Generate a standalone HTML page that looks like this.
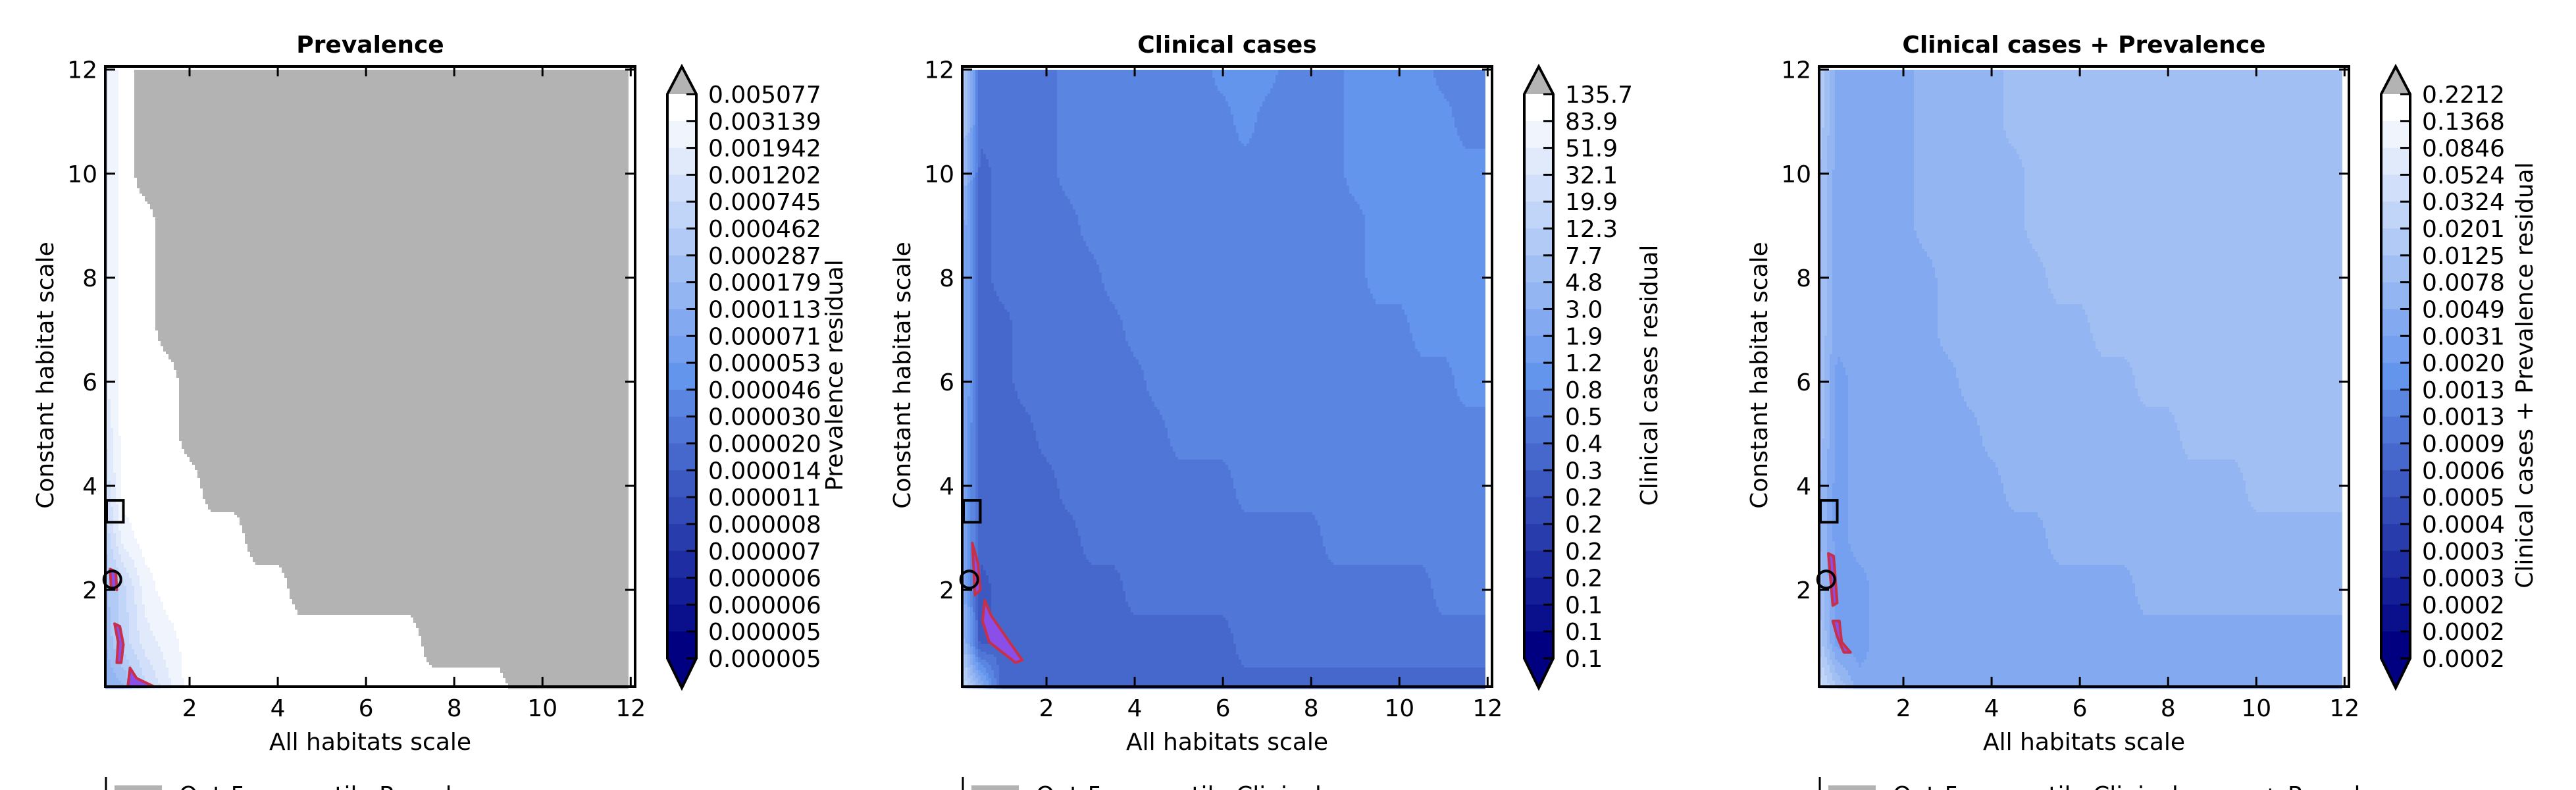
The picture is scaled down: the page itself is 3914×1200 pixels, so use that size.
<!DOCTYPE html>
<html><head><meta charset="utf-8">
<style>
html,body{margin:0;padding:0;background:#fff;width:3914px;height:1200px;overflow:hidden}
svg{display:block}
text{font-family:"DejaVu Sans","Liberation Sans",sans-serif;fill:#000}
</style></head>
<body>
<svg id="fig" width="3914" height="1200" viewBox="0 0 3914 1200" xmlns="http://www.w3.org/2000/svg"></svg>
<script>
// ---- data ----
// grid: columns x = 0,0.5,...,12 ; rows y = 12,11,...,0 ; letter A..U = bin 0..20, Z = over (gray)
const prevRows = ["SUZ","SUZ","SUZ","SUUZ","SUUZ","SUUZ","SUUUZ","RUUUZ","QUUUUZ","PTUUUUUZ","OQTUUUUUUZ","NQSTUUUUUUUUUUUZ","MNQSUUUUUUUUUUUUUUUZ"];
const clinRows = ["RIIIIJJJJJJJKKKJJJKKKKJJJ","RIIIIJJJJJJJJKJJJJKKKKKJJ","QHIIIJJJJJJJJJJJJJKKKKKKK","OHIIIIJJJJJJJJJJJJJKKKKKK","OHIIIIIJJJJJJJJJJJJKKKKKK","OHHIIIIIJJJJJJJJJJJJJKKKK","OHHIIIIIIJJJJJJJJJJJJJJKK","NHHHIIIIIIJJJJJJJJJJJJJJJ","NHHHHIIIIIIIIJJJJJJJJJJJJ","NHHHHHIIIIIIIIIIIJJJJJJJJ","OGHHHHHHIIIIIIIIIIIIIIJJJ","QGHHHHHHHHHHHIIIIIIIIIIII","SOHHHHHHHHHHHHHHHHHHHHHHH"];
const combRows = ["QMMMMNNNNOOOOOOOOOOOOOOOO","QMMMMNNNNOOOOOOOOOOOOOOOO","PMMMMNNNNNOOOOOOOOOOOOOOO","PMMMMNNNNNOOOOOOOOOOOOOOO","PMMMMMNNNNNOOOOOOOOOOOOOO","PMMMMMNNNNNNNOOOOOOOOOOOO","PLMMMMMNNNNNNNNOOOOOOOOOO","PLMMMMMMNNNNNNNNNOOOOOOOO","OLMMMMMMMNNNNNNNNNNNOOOOO","OLMMMMMMMMMNNNNNNNNNNNNNN","PLLMMMMMMMMMMMMNNNNNNNNNN","QLLMMMMMMMMMMMMMMMMMMMMMM","SPMMMMMMMMMMMMMMMMMMMMMMM"];
const prevTicks = ["0.005077","0.003139","0.001942","0.001202","0.000745","0.000462","0.000287","0.000179","0.000113","0.000071","0.000053","0.000046","0.000030","0.000020","0.000014","0.000011","0.000008","0.000007","0.000006","0.000006","0.000005","0.000005"];
const clinTicks = ["135.7","83.9","51.9","32.1","19.9","12.3","7.7","4.8","3.0","1.9","1.2","0.8","0.5","0.4","0.3","0.2","0.2","0.2","0.2","0.1","0.1","0.1"];
const combTicks = ["0.2212","0.1368","0.0846","0.0524","0.0324","0.0201","0.0125","0.0078","0.0049","0.0031","0.0020","0.0013","0.0013","0.0009","0.0006","0.0005","0.0004","0.0003","0.0003","0.0002","0.0002","0.0002"];
// red highlighted regions (x,y data pairs)
const prevBlobs = [[[0.22,2.05],[0.35,2.0],[0.33,2.35],[0.2,2.4]],[[0.3,1.35],[0.42,1.3],[0.5,0.95],[0.45,0.6],[0.35,0.6],[0.38,1.0]],[[0.6,0.14],[0.65,0.5],[0.8,0.3],[1.2,0.14]]];
const clinBlobs = [[[0.32,2.9],[0.45,2.5],[0.5,2.0],[0.38,1.9],[0.35,2.4]],[[0.6,1.8],[0.75,1.5],[1.45,0.65],[1.3,0.6],[0.7,1.0],[0.55,1.4]]];
const combBlobs = [[[0.3,2.7],[0.42,2.65],[0.5,1.75],[0.4,1.7],[0.35,2.2]],[[0.4,1.4],[0.55,1.4],[0.6,1.0],[0.8,0.8],[0.65,0.8],[0.5,1.1]]];
const xTicks = [2,4,6,8,10,12];
const yTicks = [2,4,6,8,10,12];
const titles = ["Prevalence","Clinical cases","Clinical cases + Prevalence"];
const cbLabels = ["Prevalence residual","Clinical cases residual","Clinical cases + Prevalence residual"];
const legendTexts = ["Out-5 percentile Prevalence","Out-5 percentile Clinical cases","Out-5 percentile Clinical cases + Prevalence"];

// ---- rendering ----
const NS="http://www.w3.org/2000/svg";
const svg=document.getElementById('fig');
const FS=36;
function mk(tag,attrs,parent){const e=document.createElementNS(NS,tag);for(const k in attrs)e.setAttribute(k,attrs[k]);(parent||svg).appendChild(e);return e;}
function binColor(b){
  if(b>=21) return '#b3b3b3';
  let c;
  if(b>=10){const t=(b-10)/10;c=[100+155*t,149+106*t,237+18*t];}
  else{const t=b/10;c=[0+100*t,0+149*t,128+109*t];}
  return 'rgb('+c.map(v=>Math.round(v)).join(',')+')';
}
function parseRows(rows){return rows.map(r=>{const a=[];for(let i=0;i<25;i++){const ch=r[Math.min(i,r.length-1)];a.push(ch==='Z'?21:ch.charCodeAt(0)-65);}return a;});}
const X0=0.09,X1=12.1,Y0=0.14,Y1=12.06,AL=160,AR=965,AT=101,AB=1043;
function panel(idx,rows,ticks,blobs){
  const ox=idx*1302;
  const g=mk('g',{});
  
  
  const sx=x=>ox+AL+(x-X0)*(AR-AL)/(X1-X0);
  const sy=y=>AT+(Y1-y)*(AB-AT)/(Y1-Y0);
  const grid=parseRows(rows);
  function sm(t){return t*t*(3-2*t);}
  function val(x,y){
    const gx=Math.max(0,Math.min(24,x/0.5)), gy=Math.max(0,Math.min(12,12-y));
    const i=Math.min(23,Math.floor(gx)), j=Math.min(11,Math.floor(gy));
    const fx=gx-i, fy=gy-j;
    return grid[j][i]*(1-fx)*(1-fy)+grid[j][i+1]*fx*(1-fy)+grid[j+1][i]*(1-fx)*fy+grid[j+1][i+1]*fx*fy;
  }
  const heat=mk('g',{},g);
  
  
  const dataTop=sy(12), dataRight=sx(11.95);
  const step=4;
  for(let py=Math.round(dataTop);py<AB;py+=step){
    const y=Y1-(py+step/2-AT)*(Y1-Y0)/(AB-AT);
    let runStart=AL+ox, runBin=null;
    for(let px=AL+ox;px<=dataRight;px+=step){
      const x=X0+(px+step/2-AL-ox)*(X1-X0)/(AR-AL);
      const b=Math.round(val(x,y));
      if(runBin===null){runBin=b;runStart=px;}
      else if(b!==runBin){mk('rect',{x:runStart,y:py,width:px-runStart+0.6,height:step+0.6,fill:binColor(runBin)},heat);runBin=b;runStart=px;}
    }
    mk('rect',{x:runStart,y:py,width:dataRight-runStart,height:step+0.6,fill:binColor(runBin)},heat);
  }
  blobs.forEach((bl,k)=>{
    const p=mk('polygon',{points:bl.map(q=>sx(q[0])+','+sy(q[1])).join(' '),fill:'#8a4fe8',stroke:'#c8304a','stroke-width':4,'stroke-linejoin':'round'},g);
    
    
  });
  const sq=mk('rect',{x:sx(X0)+2,y:sy(3.72),width:sx(0.5)-sx(X0)-2,height:sy(3.3)-sy(3.72),fill:'none',stroke:'#000','stroke-width':4},g);
  
  
  const ci=mk('circle',{cx:sx(0.25),cy:sy(2.2),r:13,fill:'none',stroke:'#000','stroke-width':4},g);
  
  
  const fr=mk('rect',{x:ox+AL,y:AT,width:AR-AL,height:AB-AT,fill:'none',stroke:'#000','stroke-width':4},g);
  
  
  xTicks.forEach(t=>{
    const x=sx(t);
    mk('line',{x1:x,y1:AB,x2:x,y2:AB-15,stroke:'#000','stroke-width':3},g);
    mk('line',{x1:x,y1:AT,x2:x,y2:AT+15,stroke:'#000','stroke-width':3},g);
    const tx=mk('text',{x:x,y:AB+45,'font-size':FS,'text-anchor':'middle'},g);
    tx.textContent=t;
    
    
  });
  yTicks.forEach(t=>{
    const y=sy(t);
    mk('line',{x1:ox+AL,y1:y,x2:ox+AL+15,y2:y,stroke:'#000','stroke-width':3},g);
    mk('line',{x1:ox+AR,y1:y,x2:ox+AR-15,y2:y,stroke:'#000','stroke-width':3},g);
    const ty=mk('text',{x:ox+AL-12,y:y+13,'font-size':FS,'text-anchor':'end'},g);
    ty.textContent=t;
    
    
  });
  const ti=mk('text',{x:ox+(AL+AR)/2,y:80,'font-size':FS,'font-weight':'bold','text-anchor':'middle'},g);
  ti.textContent=titles[idx];
  
  
  const xl=mk('text',{x:ox+(AL+AR)/2,y:1139,'font-size':FS,'text-anchor':'middle'},g);
  xl.textContent='All habitats scale';
  
  
  const yl=mk('text',{x:0,y:0,'font-size':FS,'text-anchor':'middle',transform:'translate('+(ox+81)+',570) rotate(-90)'},g);
  yl.textContent='Constant habitat scale';
  
  
  const cb=mk('g',{},g);
  
  
  const cL=ox+1014,cR=ox+1058,cT=143,cB=1000,bh=(cB-cT)/21,cm=(cL+cR)/2;
  mk('polygon',{points:cL+','+cT+' '+cm+','+101+' '+cR+','+cT,fill:'#b3b3b3'},cb);
  mk('polygon',{points:cL+','+cB+' '+cm+','+1045+' '+cR+','+cB,fill:binColor(0)},cb);
  for(let k=0;k<21;k++){
    mk('rect',{x:cL,y:cT+k*bh,width:cR-cL,height:bh+0.7,fill:binColor(20-k)},cb);
  }
  mk('polygon',{points:[cL+','+cT,cm+',101',cR+','+cT,cR+','+cB,cm+',1045',cL+','+cB].join(' '),fill:'none',stroke:'#000','stroke-width':4,'stroke-linejoin':'miter'},cb);
  ticks.forEach((lab,k)=>{
    const y=cT+k*bh;
    mk('line',{x1:cR-15,y1:y,x2:cR,y2:y,stroke:'#000','stroke-width':3},cb);
    const tl=mk('text',{x:cR+18,y:y+13,'font-size':FS},cb);
    tl.textContent=lab;
    
    
  });
  const lblX=[1280,1216,1244][idx];
  const cl=mk('text',{x:0,y:0,'font-size':FS,'text-anchor':'middle',transform:'translate('+(ox+lblX)+',570) rotate(-90)'},cb);
  cl.textContent=cbLabels[idx];
  
  
  const lg=mk('g',{},g);
  
  
  mk('line',{x1:ox+AL+1,y1:1180,x2:ox+AL+1,y2:1200,stroke:'#000','stroke-width':3},lg);
  mk('rect',{x:ox+174,y:1193,width:72,height:10,fill:'#b3b3b3'},lg);
  const lt=mk('text',{x:ox+272,y:1220,'font-size':FS},lg);
  lt.textContent=legendTexts[idx];
  
  
}
panel(0,prevRows,prevTicks,prevBlobs);
panel(1,clinRows,clinTicks,clinBlobs);
panel(2,combRows,combTicks,combBlobs);
</script>
</body></html>
